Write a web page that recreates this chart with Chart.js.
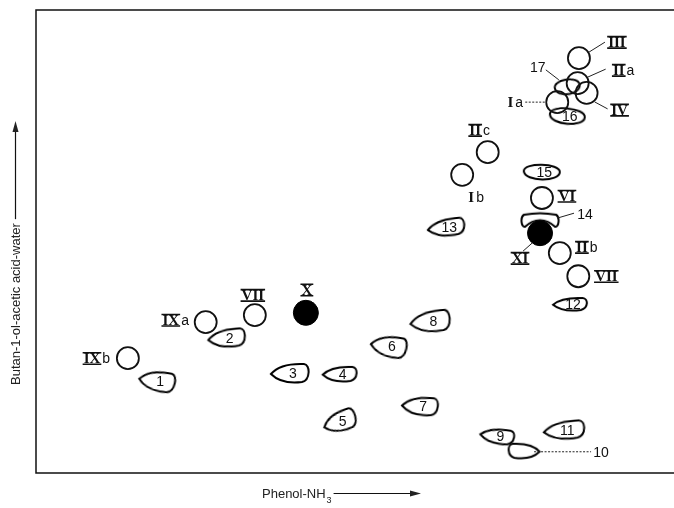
<!DOCTYPE html>
<html>
<head>
<meta charset="utf-8">
<script src="https://cdn.jsdelivr.net/npm/chart.js@4.4.1/dist/chart.umd.min.js"></script>
<style>
  html, body { margin: 0; padding: 0; background: #fff; }
  #wrap { width: 674px; height: 508px; position: relative; }
</style>
</head>
<body>
<div id="wrap"><canvas id="chart"></canvas></div>
<script>
// spot positions (0-100 across each run)
const circleNames = ["III", "IIa", "IV", "Ia", "IIc", "Ib", "VI", "IIb", "VII", "IXa", "VII", "IXb"];
const circleX = [85.1, 84.9, 86.3, 81.7, 70.8, 66.8, 79.3, 82.1, 85.0, 26.6, 34.3, 14.4];
const circleY = [89.6, 84.2, 82.1, 80.1, 69.3, 64.4, 59.4, 47.5, 42.5, 32.6, 34.1, 24.8];

const solidNames = ["X", "XI"];
const solidX = [42.3, 79.0];
const solidY = [34.6, 51.8];

const spotNames = ["1", "2", "3", "4", "5", "6", "7", "8", "9", "10", "11", "12", "13", "14", "15", "16", "17"];
const spotX = [19.0, 29.9, 39.8, 47.6, 47.6, 55.3, 60.2, 61.8, 72.3, 76.5, 82.8, 83.7, 64.3, 79.0, 79.2, 83.2, 83.2];
const spotY = [19.9, 29.2, 21.6, 21.4, 11.2, 27.4, 14.5, 32.8, 8.0, 4.8, 9.3, 36.5, 53.1, 54.6, 65.0, 77.1, 83.4];

const xTitle = "Phenol-NH";
const yTitle = "Butan-1-ol-acetic acid-water";

// --- styling (shapes, label offsets, leader lines) ---
const spotShape = ["L", "L", "L", "L", "L", "L", "L", "L", "L", "R", "L", "L", "L", "C", "O", "O", "O"];
const spotSize = [[38, 21], [39, 19], [40, 20], [36, 16], [35, 21], [38, 22], [38, 19], [42, 22], [36, 16],
                  [33, 16], [43, 19], [36, 14], [39, 18], [38, 15], [39, 18], [38, 19], [28, 18]];
const spotTilt = [10, -4, 0, 0, -18, 10, 4, -5, 8, 0, -4, 0, -6, 0, 0, 4, -12];

const circleLabelPos = [[38, -16], [46, -13], [33, 17], [-42, 0], [-8, -22], [14, 22], [25, -2], [27, -6],
                        [28, 0], [-30, -2], [-2, -20], [-31, 0]];
const solidLabelPos = [[1, -23], [-20, 25]];
const spotLabelPos = {13: [45, -6], 16: [-29, -20], 9: [77, 1]};

const leaders = [
  ["c", 0, 10, -6, 26, -16, false],
  ["c", 1, 10, -6, 28, -14, false],
  ["c", 2, 8, 9, 21, 16, false],
  ["c", 3, -32, 0, -11, 0, true],
  ["s", 16, -21, -17, -8, -7, false],
  ["s", 13, 17, -2, 34, -7, false],
  ["f", 1, -8, 10, -17, 18, false],
  ["s", 9, 10, 1, 67, 1, true]
];

function makeSpot(shape, w, h) {
  const c = document.createElement("canvas");
  c.width = w + 4;
  c.height = h + 4;
  const g = c.getContext("2d");
  g.translate(2, 2);
  g.strokeStyle = "#000";
  g.lineWidth = 2;
  g.beginPath();
  if (shape === "L" || shape === "R") {
    if (shape === "R") { g.translate(w, 0); g.scale(-1, 1); }
    g.moveTo(1, h * 0.55);
    g.bezierCurveTo(w * 0.22, h * 0.1, w * 0.55, 0.5, w * 0.85, 1);
    g.bezierCurveTo(w + 0.5, 1.5, w + 0.5, h - 3, w * 0.8, h - 1);
    g.bezierCurveTo(w * 0.5, h + 0.5, w * 0.2, h * 0.9, 1, h * 0.55);
  } else if (shape === "O") {
    g.moveTo(2, h * 0.45);
    g.bezierCurveTo(2, -1, w - 1, 0, w - 1, h * 0.5);
    g.bezierCurveTo(w - 1, h + 1, 3, h + 1, 2, h * 0.45);
  } else {
    // cup shape sitting over the solid spot
    g.moveTo(3, 2);
    g.bezierCurveTo(w * 0.35, 0, w * 0.65, 0, w - 3, 2);
    g.bezierCurveTo(w + 1, 4, w, h, w - 4, h - 1);
    g.bezierCurveTo(w * 0.65, h * 0.35, w * 0.35, h * 0.35, 4, h - 1);
    g.bezierCurveTo(0, h, -1, 4, 3, 2);
  }
  g.closePath();
  g.stroke();
  return c;
}

const spotStyles = spotShape.map((s, i) => makeSpot(s, spotSize[i][0], spotSize[i][1]));

function drawLabel(ctx, text, cx, cy) {
  ctx.fillStyle = "#111";
  ctx.strokeStyle = "#111";
  ctx.textBaseline = "middle";
  const m = text.match(/^([IVX]+)(.*)$/);
  if (!m) {
    ctx.font = "14px 'Liberation Sans', Arial, sans-serif";
    ctx.textAlign = "center";
    ctx.fillText(text, cx, cy + 1);
    return;
  }
  const roman = m[1], suffix = m[2];
  ctx.font = "bold 15px 'Liberation Serif', 'DejaVu Serif', serif";
  const wr = ctx.measureText(roman).width;
  ctx.font = "14px 'Liberation Sans', Arial, sans-serif";
  const ws = suffix ? ctx.measureText(suffix).width + 2 : 0;
  const x0 = cx - (wr + ws) / 2;
  ctx.textAlign = "left";
  ctx.font = "bold 15px 'Liberation Serif', 'DejaVu Serif', serif";
  ctx.fillText(roman, x0, cy + 1);
  if (roman !== "I") {
    ctx.lineWidth = 1.6;
    ctx.beginPath();
    ctx.moveTo(x0 - 1, cy - 5.5); ctx.lineTo(x0 + wr + 1, cy - 5.5);
    ctx.moveTo(x0 - 1, cy + 6); ctx.lineTo(x0 + wr + 1, cy + 6);
    ctx.stroke();
  }
  if (suffix) {
    ctx.font = "14px 'Liberation Sans', Arial, sans-serif";
    ctx.fillText(suffix, x0 + wr + 2, cy + 1);
  }
}

const labelPlugin = {
  id: "labels",
  beforeDraw(chart) {
    const { ctx, chartArea: a } = chart;
    ctx.save();
    ctx.strokeStyle = "#111";
    ctx.lineWidth = 1.5;
    ctx.beginPath();
    ctx.moveTo(chart.width, a.top); ctx.lineTo(a.left, a.top);
    ctx.lineTo(a.left, a.bottom); ctx.lineTo(chart.width, a.bottom);
    ctx.stroke();

    // axis titles
    ctx.fillStyle = "#222";
    ctx.font = "13px 'Liberation Sans', Arial, sans-serif";
    ctx.textBaseline = "alphabetic";
    ctx.textAlign = "left";
    ctx.save();
    ctx.translate(20, 385);
    ctx.rotate(-Math.PI / 2);
    ctx.fillText(yTitle, 0, 0);
    let tw = ctx.measureText(yTitle).width;
    ctx.lineWidth = 1.2;
    ctx.beginPath();
    ctx.moveTo(tw + 4, -4.5); ctx.lineTo(258, -4.5);
    ctx.stroke();
    ctx.beginPath();
    ctx.moveTo(264, -4.5); ctx.lineTo(253, -7.5); ctx.lineTo(253, -1.5);
    ctx.closePath(); ctx.fill();
    ctx.restore();

    ctx.fillText(xTitle, 262, 498);
    tw = ctx.measureText(xTitle).width;
    ctx.font = "9px 'Liberation Sans', Arial, sans-serif";
    ctx.fillText("3", 262 + tw + 1, 503);
    ctx.lineWidth = 1.2;
    ctx.beginPath();
    ctx.moveTo(262 + tw + 8, 493.5); ctx.lineTo(414, 493.5);
    ctx.stroke();
    ctx.beginPath();
    ctx.moveTo(421, 493.5); ctx.lineTo(410, 490.5); ctx.lineTo(410, 496.5);
    ctx.closePath(); ctx.fill();
    ctx.restore();
  },
  afterDatasetsDraw(chart) {
    const { ctx } = chart;
    const pt = (d, i) => chart.getDatasetMeta(d).data[i];
    const key = { c: 0, f: 1, s: 2 };
    ctx.save();
    circleNames.forEach((n, i) => {
      const p = pt(0, i);
      drawLabel(ctx, n, p.x + circleLabelPos[i][0], p.y + circleLabelPos[i][1]);
    });
    solidNames.forEach((n, i) => {
      const p = pt(1, i);
      drawLabel(ctx, n, p.x + solidLabelPos[i][0], p.y + solidLabelPos[i][1]);
    });
    spotNames.forEach((n, i) => {
      const p = pt(2, i);
      const o = spotLabelPos[i] || [3, 0];
      drawLabel(ctx, n, p.x + o[0], p.y + o[1]);
    });
    ctx.strokeStyle = "#222";
    leaders.forEach(([k, i, x1, y1, x2, y2, dotted]) => {
      const p = pt(key[k], i);
      ctx.lineWidth = 1;
      ctx.setLineDash(dotted ? [2, 1.5] : []);
      ctx.beginPath();
      ctx.moveTo(p.x + x1, p.y + y1);
      ctx.lineTo(p.x + x2, p.y + y2);
      ctx.stroke();
    });
    ctx.restore();
  }
};

const toPts = (xs, ys) => xs.map((x, i) => ({ x: x, y: ys[i] }));

new Chart(document.getElementById("chart"), {
  type: "scatter",
  data: {
    datasets: [
      {
        label: "reference compounds",
        data: toPts(circleX, circleY),
        pointStyle: "circle",
        pointRadius: 11,
        borderColor: "#111",
        borderWidth: 1.8,
        backgroundColor: "rgba(0,0,0,0)"
      },
      {
        label: "isolated",
        data: toPts(solidX, solidY),
        pointStyle: "circle",
        pointRadius: 12.5,
        borderColor: "#000",
        borderWidth: 1,
        backgroundColor: "#000"
      },
      {
        label: "spots",
        data: toPts(spotX, spotY),
        pointStyle: spotStyles,
        rotation: spotTilt,
        pointRadius: 10
      }
    ]
  },
  options: {
    responsive: true,
    maintainAspectRatio: false,
    animation: false,
    events: [],
    layout: { autoPadding: false, padding: { left: 36, top: 10, right: 0, bottom: 35 } },
    plugins: { legend: { display: false }, tooltip: { enabled: false } },
    scales: {
      x: { type: "linear", min: 0, max: 100, display: false },
      y: { type: "linear", min: 0, max: 100, display: false }
    }
  },
  plugins: [labelPlugin]
});
</script>
</body>
</html>
